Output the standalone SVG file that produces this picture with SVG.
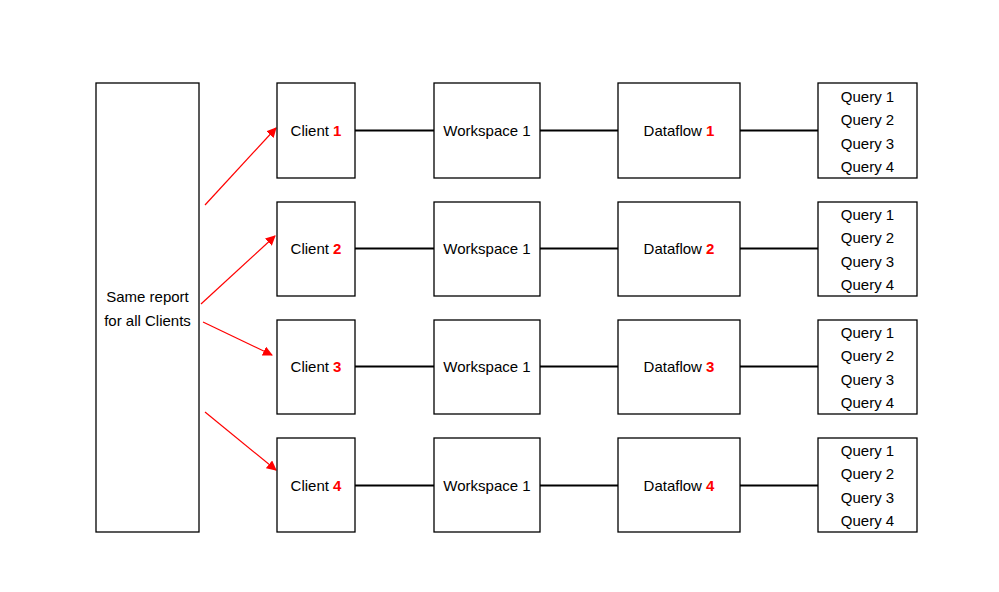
<svg xmlns="http://www.w3.org/2000/svg" width="999" height="592" viewBox="0 0 999 592">
<style>
.box{fill:#fff;stroke:#000;stroke-width:1.3}
text{font-family:"Liberation Sans",Arial,sans-serif;font-size:15px;fill:#000}
.c{text-anchor:middle}
.r{fill:#ff0000;font-weight:bold}
.ln{stroke:#000;stroke-width:2}
.ar{stroke:#ff0000;stroke-width:1.2;fill:none;marker-end:url(#ah)}
</style>
<defs>
<marker id="ah" viewBox="0 0 10 10" refX="9" refY="5" markerWidth="10" markerHeight="10" markerUnits="userSpaceOnUse" orient="auto">
<path d="M0,0 L10,5 L0,10 z" fill="#ff0000"/>
</marker>
</defs>
<rect width="999" height="592" fill="#fff"/>
<g id="connectors">
<line class="ln" x1="355" y1="130.5" x2="434" y2="130.5"/>
<line class="ln" x1="540" y1="130.5" x2="618" y2="130.5"/>
<line class="ln" x1="740" y1="130.5" x2="818" y2="130.5"/>
<line class="ln" x1="355" y1="248.5" x2="434" y2="248.5"/>
<line class="ln" x1="540" y1="248.5" x2="618" y2="248.5"/>
<line class="ln" x1="740" y1="248.5" x2="818" y2="248.5"/>
<line class="ln" x1="355" y1="366.5" x2="434" y2="366.5"/>
<line class="ln" x1="540" y1="366.5" x2="618" y2="366.5"/>
<line class="ln" x1="740" y1="366.5" x2="818" y2="366.5"/>
<line class="ln" x1="355" y1="485.5" x2="434" y2="485.5"/>
<line class="ln" x1="540" y1="485.5" x2="618" y2="485.5"/>
<line class="ln" x1="740" y1="485.5" x2="818" y2="485.5"/>
<line class="ar" x1="205" y1="205" x2="276" y2="128"/>
<line class="ar" x1="201" y1="304" x2="275" y2="236"/>
<line class="ar" x1="203" y1="322" x2="272" y2="355"/>
<line class="ar" x1="205" y1="412" x2="276" y2="470"/>
</g>
<g id="report">
<rect class="box" x="96" y="83" width="103" height="449"/>
<text class="c" x="147.5" y="302">Same report</text>
<text class="c" x="147.5" y="326">for all Clients</text>
</g>
<g id="client1"><rect class="box" x="277" y="83" width="78" height="95"/><text class="c" x="316" y="136">Client <tspan class="r">1</tspan></text></g>
<g id="client2"><rect class="box" x="277" y="202" width="78" height="94"/><text class="c" x="316" y="254">Client <tspan class="r">2</tspan></text></g>
<g id="client3"><rect class="box" x="277" y="320" width="78" height="94"/><text class="c" x="316" y="372">Client <tspan class="r">3</tspan></text></g>
<g id="client4"><rect class="box" x="277" y="438" width="78" height="94"/><text class="c" x="316" y="491">Client <tspan class="r">4</tspan></text></g>
<g id="workspace1"><rect class="box" x="434" y="83" width="106" height="95"/><text class="c" x="487" y="136">Workspace 1</text></g>
<g id="workspace2"><rect class="box" x="434" y="202" width="106" height="94"/><text class="c" x="487" y="254">Workspace 1</text></g>
<g id="workspace3"><rect class="box" x="434" y="320" width="106" height="94"/><text class="c" x="487" y="372">Workspace 1</text></g>
<g id="workspace4"><rect class="box" x="434" y="438" width="106" height="94"/><text class="c" x="487" y="491">Workspace 1</text></g>
<g id="dataflow1"><rect class="box" x="618" y="83" width="122" height="95"/><text class="c" x="679" y="136">Dataflow <tspan class="r">1</tspan></text></g>
<g id="dataflow2"><rect class="box" x="618" y="202" width="122" height="94"/><text class="c" x="679" y="254">Dataflow <tspan class="r">2</tspan></text></g>
<g id="dataflow3"><rect class="box" x="618" y="320" width="122" height="94"/><text class="c" x="679" y="372">Dataflow <tspan class="r">3</tspan></text></g>
<g id="dataflow4"><rect class="box" x="618" y="438" width="122" height="94"/><text class="c" x="679" y="491">Dataflow <tspan class="r">4</tspan></text></g>
<g id="queries1"><rect class="box" x="818" y="83" width="99" height="95"/>
<text class="c" x="867.5" y="102">Query 1</text><text class="c" x="867.5" y="125">Query 2</text><text class="c" x="867.5" y="149">Query 3</text><text class="c" x="867.5" y="172">Query 4</text></g>
<g id="queries2"><rect class="box" x="818" y="202" width="99" height="94"/>
<text class="c" x="867.5" y="220">Query 1</text><text class="c" x="867.5" y="243">Query 2</text><text class="c" x="867.5" y="267">Query 3</text><text class="c" x="867.5" y="290">Query 4</text></g>
<g id="queries3"><rect class="box" x="818" y="320" width="99" height="94"/>
<text class="c" x="867.5" y="338">Query 1</text><text class="c" x="867.5" y="361">Query 2</text><text class="c" x="867.5" y="385">Query 3</text><text class="c" x="867.5" y="408">Query 4</text></g>
<g id="queries4"><rect class="box" x="818" y="438" width="99" height="94"/>
<text class="c" x="867.5" y="456">Query 1</text><text class="c" x="867.5" y="479">Query 2</text><text class="c" x="867.5" y="503">Query 3</text><text class="c" x="867.5" y="526">Query 4</text></g>
</svg>
